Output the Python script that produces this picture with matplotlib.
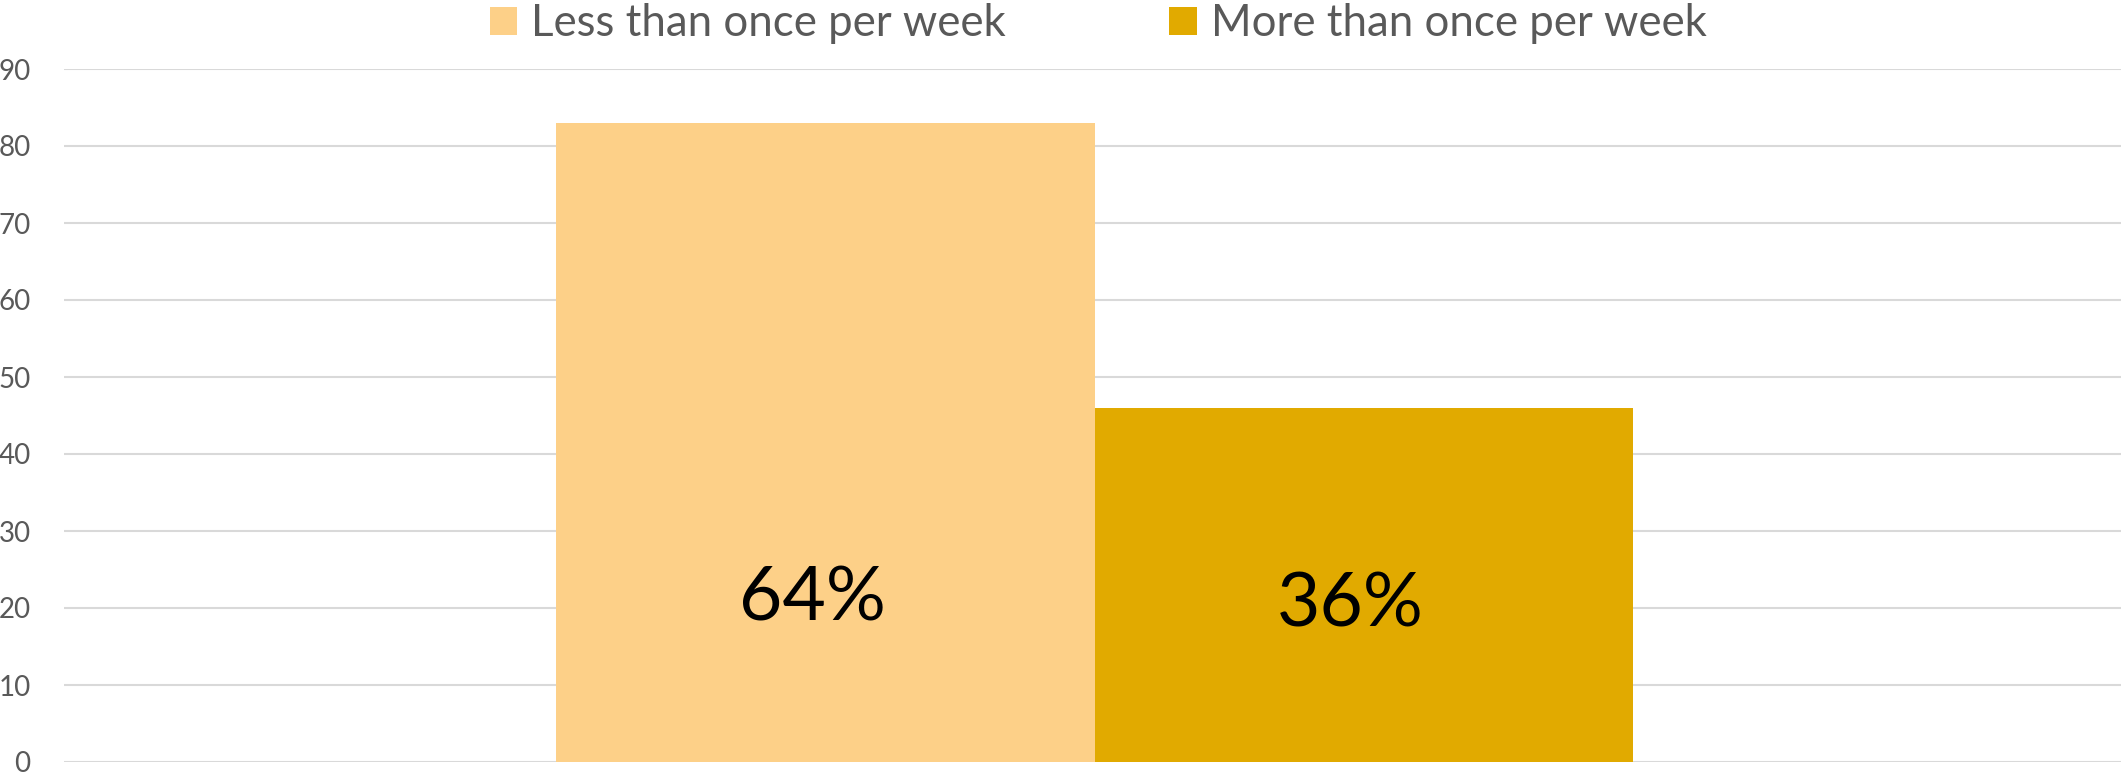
import matplotlib
matplotlib.use('agg')
from matplotlib import pyplot as plt
from matplotlib.patches import Patch

# data
series = ["Less than once per week", "More than once per week"]
values = [83, 46]
shares = ["64%", "36%"]
colors = ["#FDD088", "#E1AA00"]
yticks = [0, 10, 20, 30, 40, 50, 60, 70, 80, 90]

plt.rcParams['font.family'] = ['Lato', 'DejaVu Sans']

fig = plt.figure(figsize=(21.25, 7.79), dpi=100)
ax = fig.add_axes([64 / 2125, 17 / 779, (2121 - 64) / 2125, (762 - 69) / 779])

x = list(range(len(values)))
ax.bar(x, values, width=1.0, color=colors, zorder=2)

label_y = [21.2, 20.4]
for xi, s, ly in zip(x, shares, label_y):
    ax.text(xi - 0.025, ly, s, ha='center', va='center', fontsize=54, color='black', zorder=3)

ax.set_xlim(-1.414, 2.406)
ax.set_ylim(0, 90)
ax.set_yticks(yticks)
ax.set_xticks([])
ax.yaxis.grid(True, color='#D9D9D9', linewidth=1.5, zorder=0)
ax.set_axisbelow(True)
for sp in ax.spines.values():
    sp.set_visible(False)
ax.tick_params(axis='y', length=0, pad=24, labelsize=20, labelcolor='#595959')
for lbl in ax.get_yticklabels():
    lbl.set_horizontalalignment('right')

handles = [Patch(facecolor=c, edgecolor='none') for c in colors]
fig.legend(handles, series, loc='center', bbox_to_anchor=(1098 / 2125, 1 - 24 / 779),
           ncol=2, frameon=False, fontsize=31.5, labelcolor='#595959',
           handlelength=0.63, handleheight=0.63, handletextpad=0.31, columnspacing=3.75)

plt.savefig("out.png", dpi=100)
